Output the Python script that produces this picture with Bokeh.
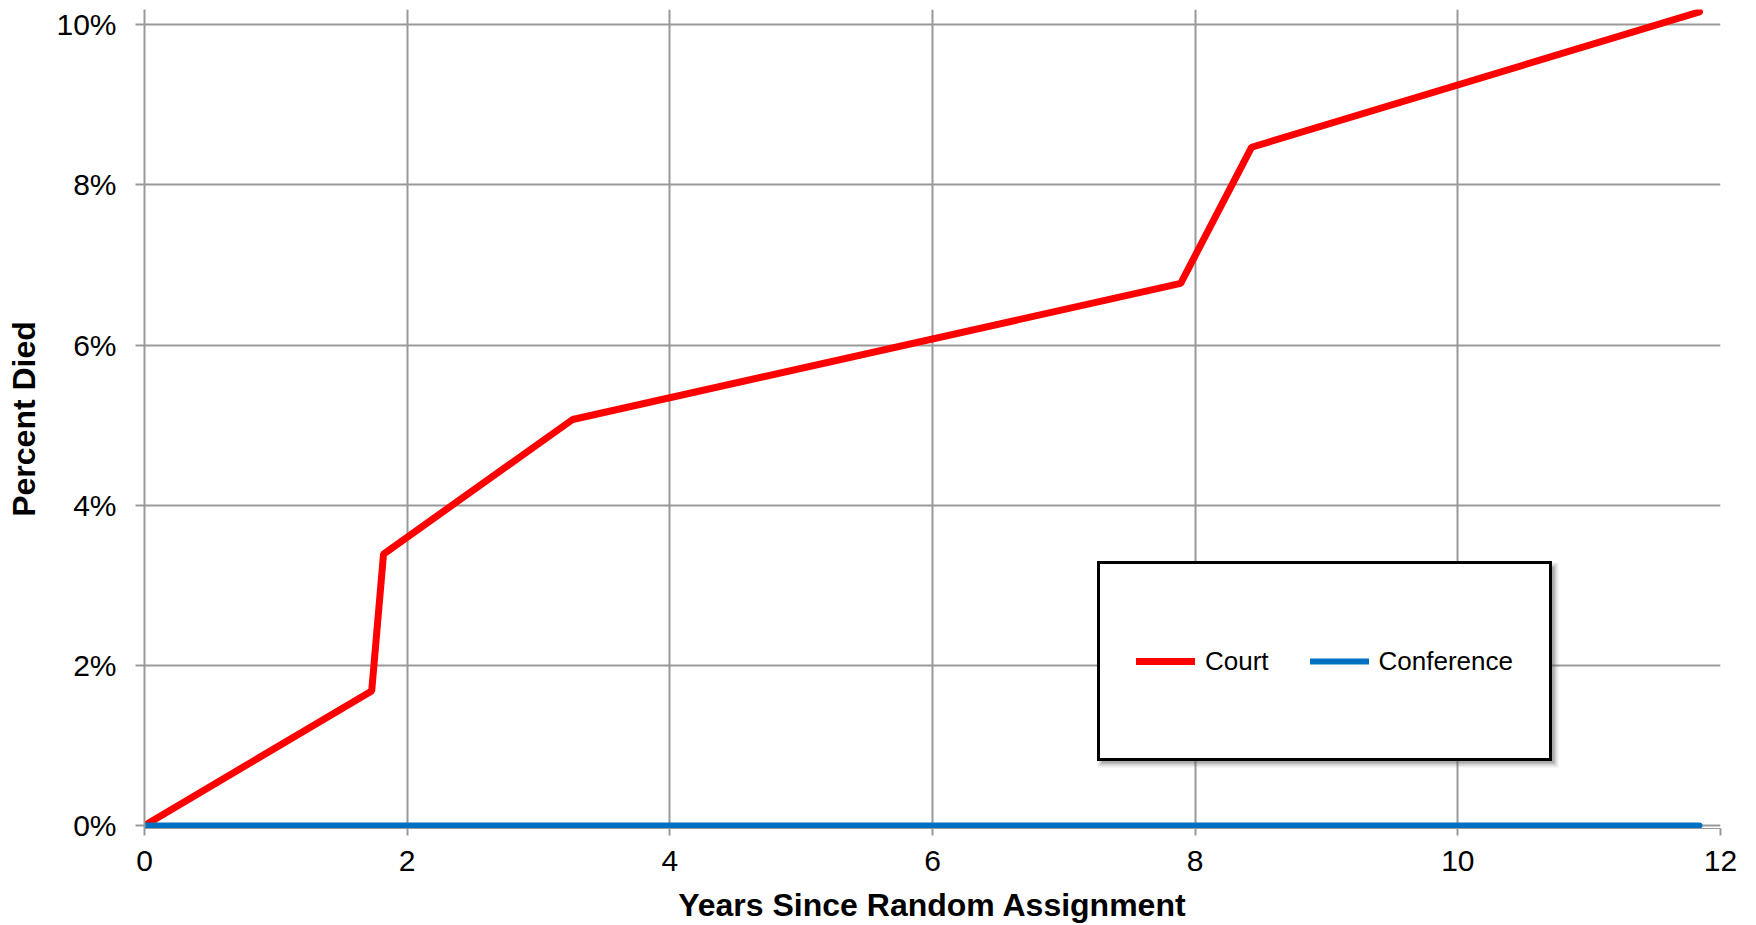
from bokeh.plotting import figure
from bokeh.models import Range1d, FixedTicker, PrintfTickFormatter, Legend, LegendItem, BoxAnnotation
from bokeh.embed import file_html
from bokeh.resources import INLINE

# ---- data ----
years_court = [0.0, 1.73, 1.82, 3.26, 7.89, 8.43, 11.84]
pct_court = [0.0, 1.68, 3.39, 5.07, 6.77, 8.47, 10.16]
years_conf = [0.0, 11.84]
pct_conf = [0.0, 0.0]
x_ticks = [0, 2, 4, 6, 8, 10, 12]
y_ticks = [0, 2, 4, 6, 8, 10]
series_names = ["Court", "Conference"]
series_colors = ["#FF0000", "#0070C0"]

FONT = "Liberation Sans"
GRID = "#999999"

p = figure(width=1756, height=925, output_backend="svg", toolbar_location=None,
           x_range=Range1d(0, 12), y_range=Range1d(-0.0375, 10.19),
           min_border_left=144, min_border_right=36, min_border_top=9, min_border_bottom=97)
p.outline_line_color = None
p.background_fill_color = "white"

# grids
p.xgrid.ticker = FixedTicker(ticks=x_ticks)
p.ygrid.ticker = FixedTicker(ticks=y_ticks)
for g in (p.xgrid, p.ygrid):
    g.grid_line_color = GRID
    g.grid_line_width = 2

# axes
p.xaxis.ticker = FixedTicker(ticks=x_ticks)
p.yaxis.ticker = FixedTicker(ticks=y_ticks)
p.yaxis.formatter = PrintfTickFormatter(format="%d%%")
for ax in (p.xaxis, p.yaxis):
    ax.axis_line_color = GRID
    ax.axis_line_width = 2
    ax.major_tick_line_color = GRID
    ax.major_tick_line_width = 2
    ax.major_tick_in = 0
    ax.minor_tick_line_color = None
    ax.major_label_text_font = FONT
    ax.major_label_text_font_size = "30px"
    ax.major_label_text_color = "black"
    ax.axis_label_text_font = FONT
    ax.axis_label_text_font_size = "32px"
    ax.axis_label_text_font_style = "bold"
    ax.axis_label_text_color = "black"
p.xaxis.axis_line_width = 1
p.xaxis.major_tick_out = 7
p.yaxis.major_tick_out = 9
p.xaxis.major_label_standoff = 15
p.xaxis.axis_label_standoff = 13
p.yaxis.major_label_standoff = 19
p.yaxis.axis_label_standoff = 11
p.xaxis.axis_label = "Years Since Random Assignment"
p.yaxis.axis_label = "Percent Died"

# lines
r_court = p.line(years_court, pct_court, line_color=series_colors[0], line_width=7,
                 line_cap="round")
r_conf = p.line(years_conf, pct_conf, line_color=series_colors[1], line_width=6,
                line_cap="round")

# soft legend shadow (screen units, relative to the plot frame)
for grow, alpha in ((0, 0.30), (2, 0.18), (4, 0.10)):
    p.add_layout(BoxAnnotation(left=957 - grow, right=1410 + grow,
                               bottom=65 - grow, top=262 + grow,
                               left_units="screen", right_units="screen",
                               top_units="screen", bottom_units="screen",
                               fill_color="#555555", fill_alpha=alpha,
                               line_color=None, level="glyph"))

legend = Legend(items=[LegendItem(label=series_names[0], renderers=[r_court]),
                       LegendItem(label=series_names[1], renderers=[r_conf])],
                location=(953, 67), orientation="horizontal",
                padding=36, spacing=41, margin=0,
                glyph_width=59, glyph_height=122, label_height=122, label_standoff=10,
                label_text_font=FONT, label_text_font_size="26px", label_text_color="black",
                border_line_color="black", border_line_width=3, border_line_alpha=1.0,
                background_fill_color="white", background_fill_alpha=1.0)
p.add_layout(legend, "center")

open("out.html", "w").write(file_html(p, INLINE))
